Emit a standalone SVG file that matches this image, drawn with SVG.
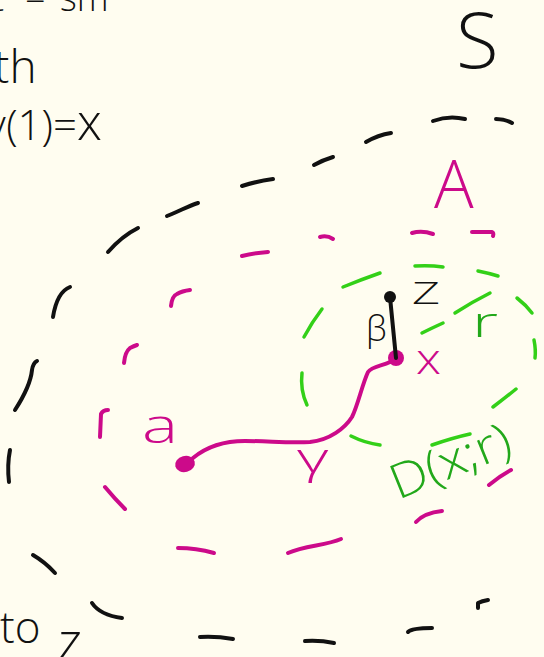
<svg xmlns="http://www.w3.org/2000/svg" width="544" height="657" viewBox="0 0 544 657">
<style>
.k{stroke:#111;fill:none;stroke-width:4;stroke-linecap:round;stroke-linejoin:round}
.p{stroke:#cc0a8a;fill:none;stroke-width:4;stroke-linecap:round;stroke-linejoin:round}
.g{stroke:#33d018;fill:none;stroke-width:3.5;stroke-linecap:round;stroke-linejoin:round}
.t{font-family:"Open Sans","Liberation Sans",sans-serif;font-weight:300}
.tk{fill:#111}
.tp{fill:#cc0a8a}
.tg{fill:#22a81a}
</style>
<rect width="544" height="657" fill="#fffdf0"/>

<g id="set-S">
<path class="k" d="M433,121 Q449,115 465,119"/>
<path class="k" d="M496,119 Q505,119 512,123"/>
<path class="k" d="M366,142 Q378,135 391,133"/>
<path class="k" d="M314,165 Q323,160 333,157"/>
<path class="k" d="M242,186 Q258,181 273,179"/>
<path class="k" d="M167,216 C180,211 188,206 198,203"/>
<path class="k" d="M108,252 Q122,236 138,228"/>
<path class="k" d="M53,317 Q57,292 70,287"/>
<path class="k" d="M15,410 C26,393 31,380 32,370 Q33,363 37,361"/>
<path class="k" d="M9,482 Q7,465 10,450"/>
<path class="k" d="M33,555 Q45,562 55,573"/>
<path class="k" d="M92,603 Q100,615 122,618"/>
<path class="k" d="M200,637 Q216,636 233,639"/>
<path class="k" d="M305,641 Q320,640 334,643"/>
<path class="k" d="M408,632 Q412,628 432,628"/>
<path class="k" d="M478,608 L478,603 Q482,601 488,600"/>
</g>

<g id="set-A">
<path class="p" d="M320,237 Q327,235 333,239"/>
<path class="p" d="M412,233 Q422,230 433,234"/>
<path class="p" d="M472,232 L492,232 Q494,233 493,236"/>
<path class="p" d="M242,256 Q254,253 268,252"/>
<path class="p" d="M171,306 Q172,296 177,294 Q182,291 190,290"/>
<path class="p" d="M124,363 Q125,352 130,348 Q134,346 137,345"/>
<path class="p" d="M100,437 L101,414 Q103,410 108,410"/>
<path class="p" d="M105,487 Q115,499 125,509"/>
<path class="p" d="M178,548 Q196,548 214,553"/>
<path class="p" d="M288,553 C305,545 325,546 341,539"/>
<path class="p" d="M416,522 Q424,513 442,511"/>
<path class="p" d="M489,485 Q500,476 511,470"/>
</g>

<g id="disk-D">
<path class="g" d="M415,266 Q430,265 443,267"/>
<path class="g" d="M478,271 Q488,273 498,276"/>
<path class="g" d="M343,287 Q360,280 380,273"/>
<path class="g" d="M455,313 Q472,302 490,293"/>
<path class="g" d="M517,298 Q526,305 532,313"/>
<path class="g" d="M422,333 Q432,328 443,323"/>
<path class="g" d="M322,309 Q312,322 304,337"/>
<path class="g" d="M534,340 Q536,350 535,358"/>
<path class="g" d="M302,373 Q300,390 307,405"/>
<path class="g" d="M516,389 Q505,398 493,407"/>
<path class="g" d="M351,436 Q365,443 380,445"/>
<path class="g" d="M432,445 Q452,438 470,434"/>
</g>

<g id="connectors">
<path id="gamma" class="p" stroke-width="3.5" d="M193,458 C205,448 220,441 245,441 C270,441 285,443 310,442 C330,440 345,428 352,417 C358,405 362,385 368,372 C372,366 382,366 390,362 L397,358"/>
<circle cx="396" cy="358" r="8" fill="#cc0a8a"/>
<path id="beta" class="k" d="M390,297 L396,358"/>
</g>

<g id="point-a"><ellipse cx="185" cy="464" rx="10" ry="8" transform="rotate(-15 185 464)" fill="#cc0a8a"/></g>
<g id="point-z"><circle cx="390" cy="297" r="6" fill="#111"/></g>

<g id="labels">
<text class="t tk" x="-8" y="11" font-size="36"><tspan x="-8">t</tspan><tspan x="25">=</tspan><tspan x="60">sm</tspan></text>
<text class="t tk" x="-6" y="83" font-size="46">th</text>
<text class="t tk" x="-14" y="140" font-size="42">γ(1)=<tspan font-size="50">x</tspan></text>
<text class="t tk" x="0" y="643" font-size="44">to<tspan x="58" y="659" font-size="52">z</tspan></text>
<text class="t tk" x="456" y="68" font-size="78">S</text>
<text class="t tp" x="434" y="208" font-size="66">A</text>
<text class="t tk" x="412" y="304" font-size="32" textLength="28" lengthAdjust="spacingAndGlyphs">Z</text>
<text class="t tk" x="366" y="341" font-size="34">β</text>
<text class="t tp" x="416" y="374" font-size="42" textLength="25" lengthAdjust="spacingAndGlyphs">x</text>
<text class="t tg" x="472" y="337" font-size="42" textLength="26" lengthAdjust="spacingAndGlyphs">r</text>
<text class="t tp" x="142" y="443" font-size="48" textLength="36" lengthAdjust="spacingAndGlyphs">a</text>
<text class="t tp" x="297" y="473" font-size="42" textLength="32" lengthAdjust="spacingAndGlyphs">γ</text>
<text class="t tg" x="398" y="500" font-size="48" textLength="126" lengthAdjust="spacingAndGlyphs" transform="rotate(-22 398 500)">D(x;r)</text>
</g>
</svg>
